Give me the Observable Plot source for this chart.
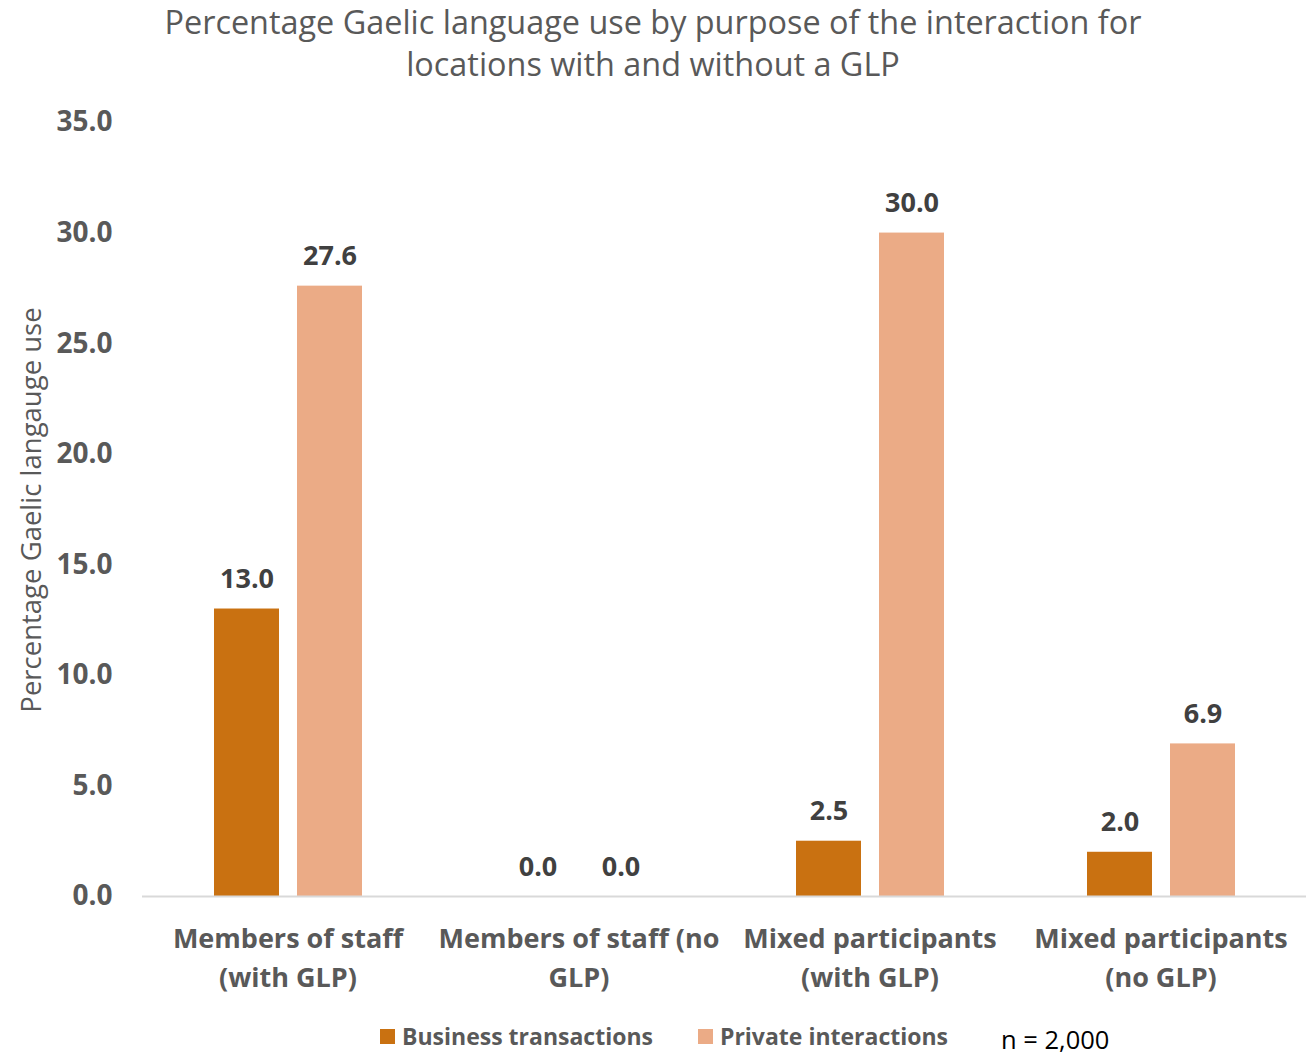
<!DOCTYPE html>
<html>
<head>
<meta charset="utf-8">
<script src="https://cdn.jsdelivr.net/npm/d3@7"></script>
<script src="https://cdn.jsdelivr.net/npm/@observablehq/plot@0.6"></script>
<style>
  html, body { margin: 0; padding: 0; background: #fff; }
  #wrap { position: relative; width: 1306px; height: 1055px; overflow: hidden; font-family: "Open Sans", sans-serif; }
  #title { position: absolute; top: 0px; left: 0; width: 1306px; text-align: center; font-size: 32.4px; line-height: 42px; color: #595959; }
  #ylabel { position: absolute; left: 30px; top: 510px; transform: translate(-50%, -50%) rotate(-90deg); white-space: nowrap; font-size: 27.5px; color: #595959; }
  #chart { position: absolute; left: 0; top: 0; }
  #legend { position: absolute; top: 1020px; left: 380px; font-size: 23px; font-weight: 700; color: #595959; display: flex; align-items: center; white-space: nowrap; }
  .sw { display: inline-block; width: 15px; height: 15px; margin-right: 7px; }
  .item { display: flex; align-items: center; margin-right: 45px; }
  #note { position: absolute; top: 1026px; left: 1001px; font-size: 25.5px; line-height: 26px; color: #000; white-space: nowrap; }
</style>
</head>
<body>
<div id="wrap">
  <div id="chart"></div>
  <div id="title">Percentage Gaelic language use by purpose of the interaction for<br>locations with and without a GLP</div>
  <div id="ylabel">Percentage Gaelic langauge use</div>
  <div id="legend"></div>
  <div id="note">n = 2,000</div>
</div>
<script>
const categories = ["Members of staff (with GLP)", "Members of staff (no GLP)", "Mixed participants (with GLP)", "Mixed participants (no GLP)"];
const categoryLabels = ["Members of staff\n(with GLP)", "Members of staff (no\nGLP)", "Mixed participants\n(with GLP)", "Mixed participants\n(no GLP)"];
const seriesNames = ["Business transactions", "Private interactions"];
const seriesColors = ["#C97111", "#EBAB86"];
const businessValues = [13.0, 0.0, 2.5, 2.0];
const privateValues = [27.6, 0.0, 30.0, 6.9];
const yTicks = [0, 5, 10, 15, 20, 25, 30, 35];

const data = categories.flatMap((c, i) => [
  {cat: c, series: seriesNames[0], value: businessValues[i]},
  {cat: c, series: seriesNames[1], value: privateValues[i]}
]);
const labelOf = new Map(categories.map((c, i) => [c, categoryLabels[i]]));

const chart = Plot.plot({
  width: 1306,
  height: 1000,
  marginLeft: 142,
  marginRight: 0,
  marginTop: 122,
  marginBottom: 104,
  style: {fontFamily: "Open Sans, sans-serif", background: "transparent"},
  fx: {domain: categories, padding: 0, label: null, axis: null},
  x: {domain: seriesNames, paddingInner: 0.217, paddingOuter: 0.861, axis: null},
  y: {domain: [0, 35], label: null},
  color: {domain: seriesNames, range: seriesColors},
  marks: [
    Plot.axisY(yTicks, {tickSize: 0, tickPadding: 30, tickFormat: d => d.toFixed(1), fontSize: 28, fontWeight: 700, fill: "#595959", label: null}),
    Plot.axisFx({anchor: "bottom", tickSize: 0, tickPadding: 24, tickFormat: d => labelOf.get(d), fontSize: 27, fontWeight: 700, fill: "#595959", lineHeight: 1.45, label: null}),
    Plot.barY(data, {fx: "cat", x: "series", y: "value", fill: "series"}),
    Plot.ruleY([0], {stroke: "#D9D9D9", strokeWidth: 2}),
    Plot.text(data, {fx: "cat", x: "series", y: "value", text: d => d.value.toFixed(1), lineAnchor: "bottom", dy: -21, fontSize: 27, fontWeight: 700, fill: "#404040"})
  ]
});
document.getElementById("chart").appendChild(chart);

const legend = document.getElementById("legend");
seriesNames.forEach((s, i) => {
  const item = document.createElement("div");
  item.className = "item";
  const sw = document.createElement("span");
  sw.className = "sw";
  sw.style.background = seriesColors[i];
  item.appendChild(sw);
  item.appendChild(document.createTextNode(s));
  legend.appendChild(item);
});
</script>
</body>
</html>
